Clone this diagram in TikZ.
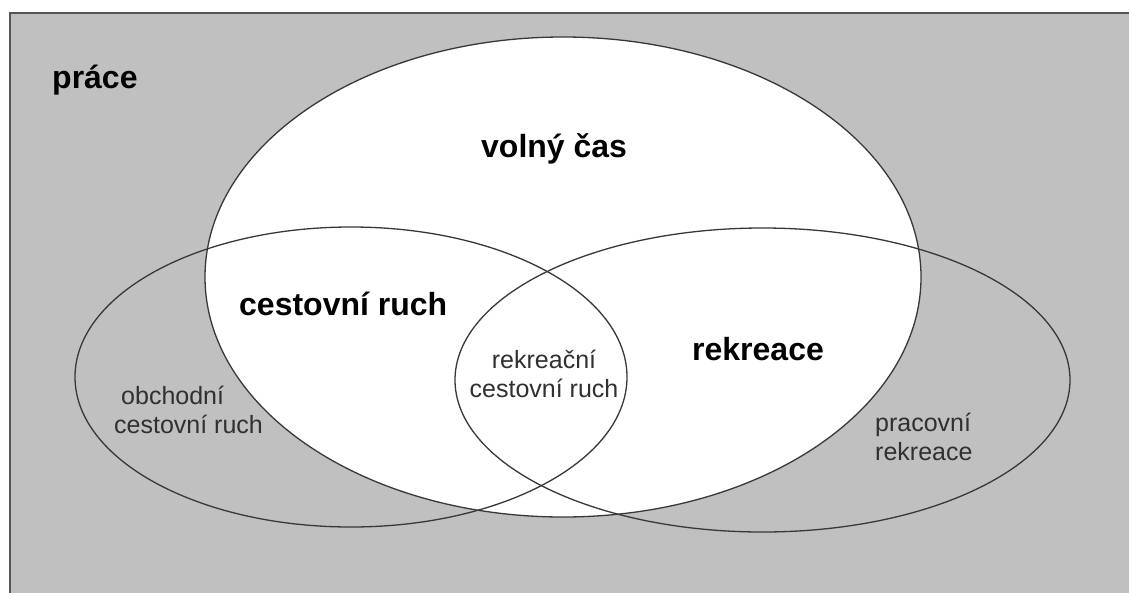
\documentclass[tikz,border=0pt]{standalone}
\usepackage{fontspec}
\setmainfont{Liberation Sans}
\definecolor{bggray}{HTML}{C0C0C0}
\definecolor{framegray}{HTML}{555555}
\definecolor{linegray}{HTML}{383838}
\definecolor{txtgray}{HTML}{303030}
\begin{document}
\begin{tikzpicture}[x=1pt,y=-1pt,
  outline/.style={draw=linegray,line width=1.3pt},
  bigbold/.style={anchor=base west,inner sep=0pt,font=\fontsize{32}{38}\selectfont\bfseries,text=black},
  small/.style={anchor=base west,inner sep=0pt,font=\fontsize{25}{28.5}\selectfont,text=txtgray,align=left}]
\useasboundingbox (0,0) rectangle (1129,592);
\clip (0,0) rectangle (1129,592);
% background frame
\fill[bggray] (10,13) rectangle (1140,600);
\draw[framegray,line width=2pt] (10,600) -- (10,13) -- (1140,13);
% ellipses
\fill[white] (563,277) ellipse [x radius=358, y radius=240];
\draw[outline] (563,277) ellipse [x radius=358, y radius=240];
\draw[outline] (351,377) ellipse [x radius=276, y radius=150];
\draw[outline] (762.5,380) ellipse [x radius=307.5, y radius=152];
% labels
\node[bigbold] (prace) at (52,88) {práce};
\node[bigbold] (volny) at (481,157) {volný čas};
\node[bigbold] (cr) at (239,315) {cestovní ruch};
\node[bigbold] (rek) at (692,360) {rekreace};
\node[small] (obch) at (114,433) {\hspace{7pt}obchodní\\cestovní ruch};
\node[small,anchor=base,align=center] (rcr) at (544,397) {rekreační\\cestovní ruch};
\node[small] (prac) at (875,460) {pracovní\\rekreace};
\end{tikzpicture}
\end{document}
